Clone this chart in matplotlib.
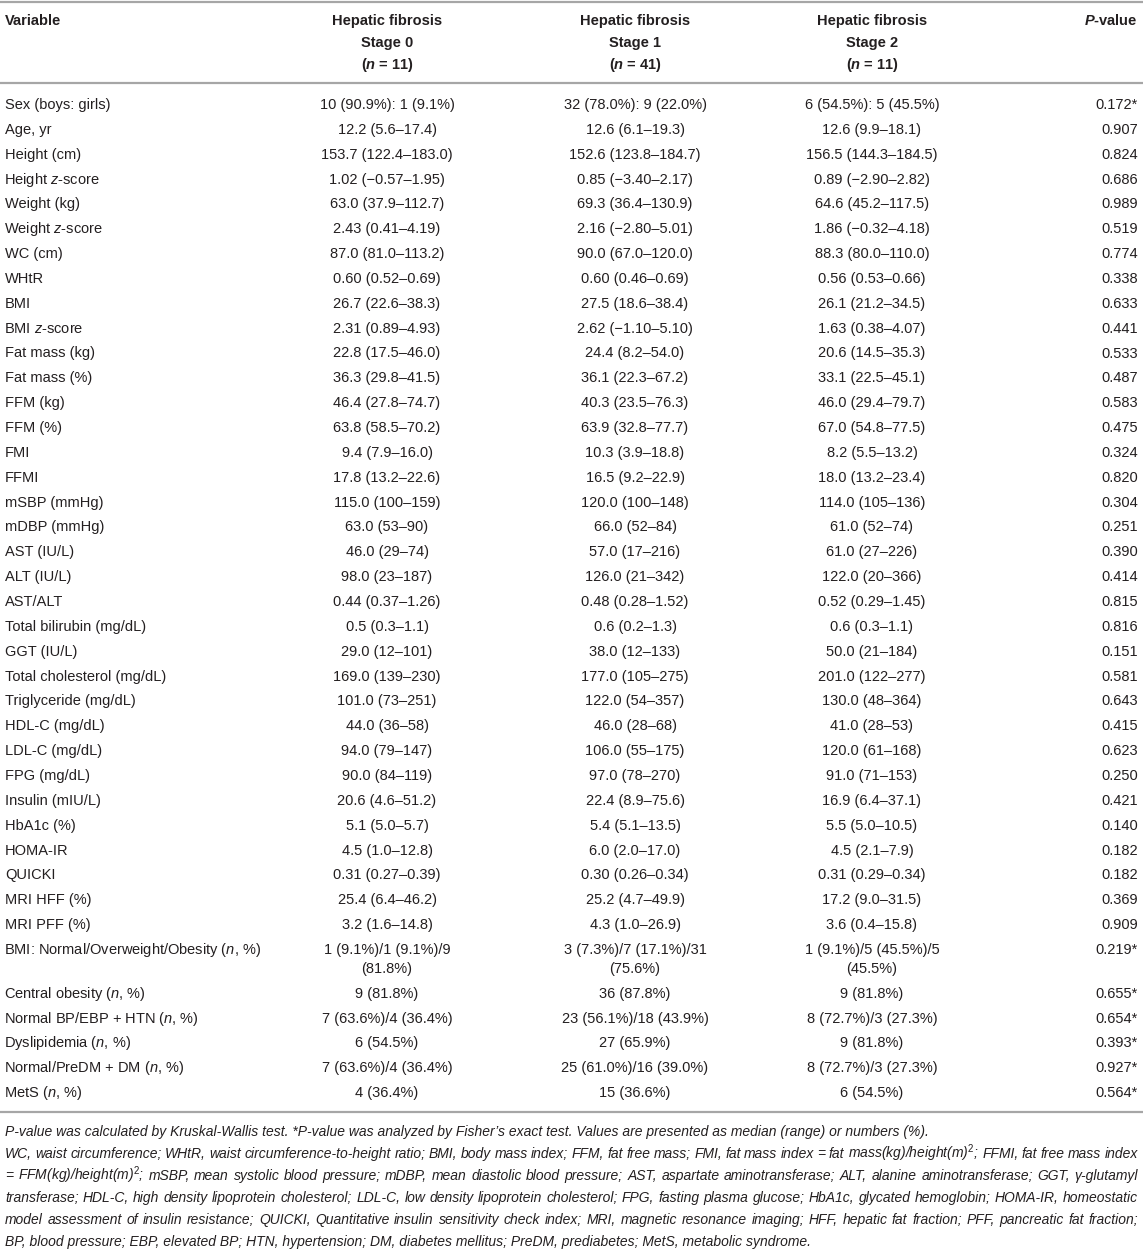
import textwrap
import matplotlib.pyplot as plt

# fonts: Arial-like sans, italic/bold-italic letters via mathtext
plt.rcParams["font.family"] = ["Liberation Sans", "DejaVu Sans"]
plt.rcParams["mathtext.fontset"] = "custom"
plt.rcParams["mathtext.rm"] = "Liberation Sans"
plt.rcParams["mathtext.it"] = "Liberation Sans:italic"
plt.rcParams["mathtext.bf"] = "Liberation Sans:bold:italic"

# ---- table data ----
headers = ["Stage 0", "Stage 1", "Stage 2"]
group_n = [11, 41, 11]

variables = [
    "Sex (boys: girls)", "Age, yr", "Height (cm)", "Height $\\mathit{z}$-score",
    "Weight (kg)", "Weight $\\mathit{z}$-score", "WC (cm)", "WHtR", "BMI",
    "BMI $\\mathit{z}$-score", "Fat mass (kg)", "Fat mass (%)", "FFM (kg)",
    "FFM (%)", "FMI", "FFMI", "mSBP (mmHg)", "mDBP (mmHg)", "AST (IU/L)",
    "ALT (IU/L)", "AST/ALT", "Total bilirubin (mg/dL)", "GGT (IU/L)",
    "Total cholesterol (mg/dL)", "Triglyceride (mg/dL)", "HDL-C (mg/dL)",
    "LDL-C (mg/dL)", "FPG (mg/dL)", "Insulin (mIU/L)", "HbA1c (%)", "HOMA-IR",
    "QUICKI", "MRI HFF (%)", "MRI PFF (%)",
    "BMI: Normal/Overweight/Obesity ($\\mathit{n}$, %)",
    "Central obesity ($\\mathit{n}$, %)",
    "Normal BP/EBP + HTN ($\\mathit{n}$, %)",
    "Dyslipidemia ($\\mathit{n}$, %)",
    "Normal/PreDM + DM ($\\mathit{n}$, %)",
    "MetS ($\\mathit{n}$, %)",
]

stage0 = [
    "10 (90.9%): 1 (9.1%)", "12.2 (5.6–17.4)", "153.7 (122.4–183.0)",
    "1.02 (−0.57–1.95)", "63.0 (37.9–112.7)", "2.43 (0.41–4.19)",
    "87.0 (81.0–113.2)", "0.60 (0.52–0.69)", "26.7 (22.6–38.3)",
    "2.31 (0.89–4.93)", "22.8 (17.5–46.0)", "36.3 (29.8–41.5)",
    "46.4 (27.8–74.7)", "63.8 (58.5–70.2)", "9.4 (7.9–16.0)",
    "17.8 (13.2–22.6)", "115.0 (100–159)", "63.0 (53–90)", "46.0 (29–74)",
    "98.0 (23–187)", "0.44 (0.37–1.26)", "0.5 (0.3–1.1)", "29.0 (12–101)",
    "169.0 (139–230)", "101.0 (73–251)", "44.0 (36–58)", "94.0 (79–147)",
    "90.0 (84–119)", "20.6 (4.6–51.2)", "5.1 (5.0–5.7)", "4.5 (1.0–12.8)",
    "0.31 (0.27–0.39)", "25.4 (6.4–46.2)", "3.2 (1.6–14.8)",
    "1 (9.1%)/1 (9.1%)/9 (81.8%)", "9 (81.8%)", "7 (63.6%)/4 (36.4%)",
    "6 (54.5%)", "7 (63.6%)/4 (36.4%)", "4 (36.4%)",
]

stage1 = [
    "32 (78.0%): 9 (22.0%)", "12.6 (6.1–19.3)", "152.6 (123.8–184.7)",
    "0.85 (−3.40–2.17)", "69.3 (36.4–130.9)", "2.16 (−2.80–5.01)",
    "90.0 (67.0–120.0)", "0.60 (0.46–0.69)", "27.5 (18.6–38.4)",
    "2.62 (−1.10–5.10)", "24.4 (8.2–54.0)", "36.1 (22.3–67.2)",
    "40.3 (23.5–76.3)", "63.9 (32.8–77.7)", "10.3 (3.9–18.8)",
    "16.5 (9.2–22.9)", "120.0 (100–148)", "66.0 (52–84)", "57.0 (17–216)",
    "126.0 (21–342)", "0.48 (0.28–1.52)", "0.6 (0.2–1.3)", "38.0 (12–133)",
    "177.0 (105–275)", "122.0 (54–357)", "46.0 (28–68)", "106.0 (55–175)",
    "97.0 (78–270)", "22.4 (8.9–75.6)", "5.4 (5.1–13.5)", "6.0 (2.0–17.0)",
    "0.30 (0.26–0.34)", "25.2 (4.7–49.9)", "4.3 (1.0–26.9)",
    "3 (7.3%)/7 (17.1%)/31 (75.6%)", "36 (87.8%)", "23 (56.1%)/18 (43.9%)",
    "27 (65.9%)", "25 (61.0%)/16 (39.0%)", "15 (36.6%)",
]

stage2 = [
    "6 (54.5%): 5 (45.5%)", "12.6 (9.9–18.1)", "156.5 (144.3–184.5)",
    "0.89 (−2.90–2.82)", "64.6 (45.2–117.5)", "1.86 (−0.32–4.18)",
    "88.3 (80.0–110.0)", "0.56 (0.53–0.66)", "26.1 (21.2–34.5)",
    "1.63 (0.38–4.07)", "20.6 (14.5–35.3)", "33.1 (22.5–45.1)",
    "46.0 (29.4–79.7)", "67.0 (54.8–77.5)", "8.2 (5.5–13.2)",
    "18.0 (13.2–23.4)", "114.0 (105–136)", "61.0 (52–74)", "61.0 (27–226)",
    "122.0 (20–366)", "0.52 (0.29–1.45)", "0.6 (0.3–1.1)", "50.0 (21–184)",
    "201.0 (122–277)", "130.0 (48–364)", "41.0 (28–53)", "120.0 (61–168)",
    "91.0 (71–153)", "16.9 (6.4–37.1)", "5.5 (5.0–10.5)", "4.5 (2.1–7.9)",
    "0.31 (0.29–0.34)", "17.2 (9.0–31.5)", "3.6 (0.4–15.8)",
    "1 (9.1%)/5 (45.5%)/5 (45.5%)", "9 (81.8%)", "8 (72.7%)/3 (27.3%)",
    "9 (81.8%)", "8 (72.7%)/3 (27.3%)", "6 (54.5%)",
]

p_values = [
    "0.172*", "0.907", "0.824", "0.686", "0.989", "0.519", "0.774", "0.338",
    "0.633", "0.441", "0.533", "0.487", "0.583", "0.475", "0.324", "0.820",
    "0.304", "0.251", "0.390", "0.414", "0.815", "0.816", "0.151", "0.581",
    "0.643", "0.415", "0.623", "0.250", "0.421", "0.140", "0.182", "0.182",
    "0.369", "0.909", "0.219*", "0.655*", "0.654*", "0.393*", "0.927*",
    "0.564*",
]

footnote_plain = (
    "P-value was calculated by Kruskal-Wallis test. *P-value was analyzed by "
    "Fisher’s exact test. Values are presented as median (range) or numbers (%)."
)
footnote_justified = [
    "WC, waist circumference; WHtR, waist circumference-to-height ratio; BMI, body mass index; "
    "FFM, fat free mass; FMI, fat mass index = fat mass(kg)/height(m)$^2$; FFMI, fat free mass index",
    "= FFM(kg)/height(m)$^2$; mSBP, mean systolic blood pressure; mDBP, mean diastolic blood pressure; "
    "AST, aspartate aminotransferase; ALT, alanine aminotransferase; GGT, γ-glutamyl",
    "transferase; HDL-C, high density lipoprotein cholesterol; LDL-C, low density lipoprotein "
    "cholesterol; FPG, fasting plasma glucose; HbA1c, glycated hemoglobin; HOMA-IR, homeostatic",
    "model assessment of insulin resistance; QUICKI, Quantitative insulin sensitivity check index; "
    "MRI, magnetic resonance imaging; HFF, hepatic fat fraction; PFF, pancreatic fat fraction;",
]
footnote_last = ("BP, blood pressure; EBP, elevated BP; HTN, hypertension; DM, diabetes mellitus; "
                 "PreDM, prediabetes; MetS, metabolic syndrome.")

# ---- layout ----
W, H = 1143, 1254
fig = plt.figure(figsize=(W / 100, H / 100), dpi=100)
ax = fig.add_axes([0, 0, 1, 1])
ax.set_xlim(0, W)
ax.set_ylim(H, 0)
ax.axis("off")

ink = "#231f20"
rule = "#a6a6a6"
fs = 10.5
x_var = 5
col_x = [387, 635, 872]
x_p = 1138
x_right = 1138

ax.plot([0, W], [2, 2], color=rule, lw=1.6)

# header
hy = [20, 42, 64]
ax.text(x_var, hy[0] + 5, "Variable", fontsize=fs, weight="bold", color=ink, va="baseline")
for xc, head, n in zip(col_x, headers, group_n):
    for k, line in enumerate(["Hepatic fibrosis", head, "($\\mathbf{n}$ = %d)" % n]):
        ax.text(xc, hy[k] + 5, line, fontsize=fs, weight="bold", color=ink,
                ha="center", va="baseline")
ax.text(x_p, hy[0] + 5, "$\\mathbf{P}$-value", fontsize=fs, weight="bold", color=ink,
        ha="right", va="baseline")
ax.plot([0, W], [83, 83], color=rule, lw=1.6)

# body
y = 104
row_h, line_h = 24.85, 19
for var, a, b, c, p in zip(variables, stage0, stage1, stage2, p_values):
    cells = [textwrap.wrap(s, 21) for s in (a, b, c)]
    nl = max(len(cl) for cl in cells)
    xv = x_var - 1 if "$" in var else x_var
    ax.text(xv, y + 5, var, fontsize=fs, color=ink, va="baseline")
    for xc, lines in zip(col_x, cells):
        for k, line in enumerate(lines):
            ax.text(xc, y + 5 + k * line_h, line, fontsize=fs, color=ink,
                    ha="center", va="baseline")
    ax.text(x_p, y + 5, p, fontsize=fs, color=ink, ha="right", va="baseline")
    y += row_h + line_h * (nl - 1)

y_bottom = y - row_h + 20
ax.plot([0, W], [y_bottom, y_bottom], color=rule, lw=1.6)

# footnotes (italic, lines 2-5 justified)
fn = 10
fy = y_bottom + 20
fh = 21.9
renderer = fig.canvas.get_renderer()

ax.text(x_var, fy + 4, footnote_plain, fontsize=fn, style="italic", color=ink, va="baseline")
fy += fh
for line in footnote_justified:
    words = line.split(" ")
    texts = [ax.text(0, fy + 4, w, fontsize=fn, style="italic", color=ink, va="baseline")
             for w in words]
    widths = [t.get_window_extent(renderer).width for t in texts]
    gap = (x_right - x_var - sum(widths)) / (len(words) - 1)
    xx = x_var
    for t, wd in zip(texts, widths):
        t.set_x(xx)
        xx += wd + gap
    fy += fh
ax.text(x_var, fy + 4, footnote_last, fontsize=fn, style="italic", color=ink, va="baseline")

fig.savefig("out.png", dpi=100)
